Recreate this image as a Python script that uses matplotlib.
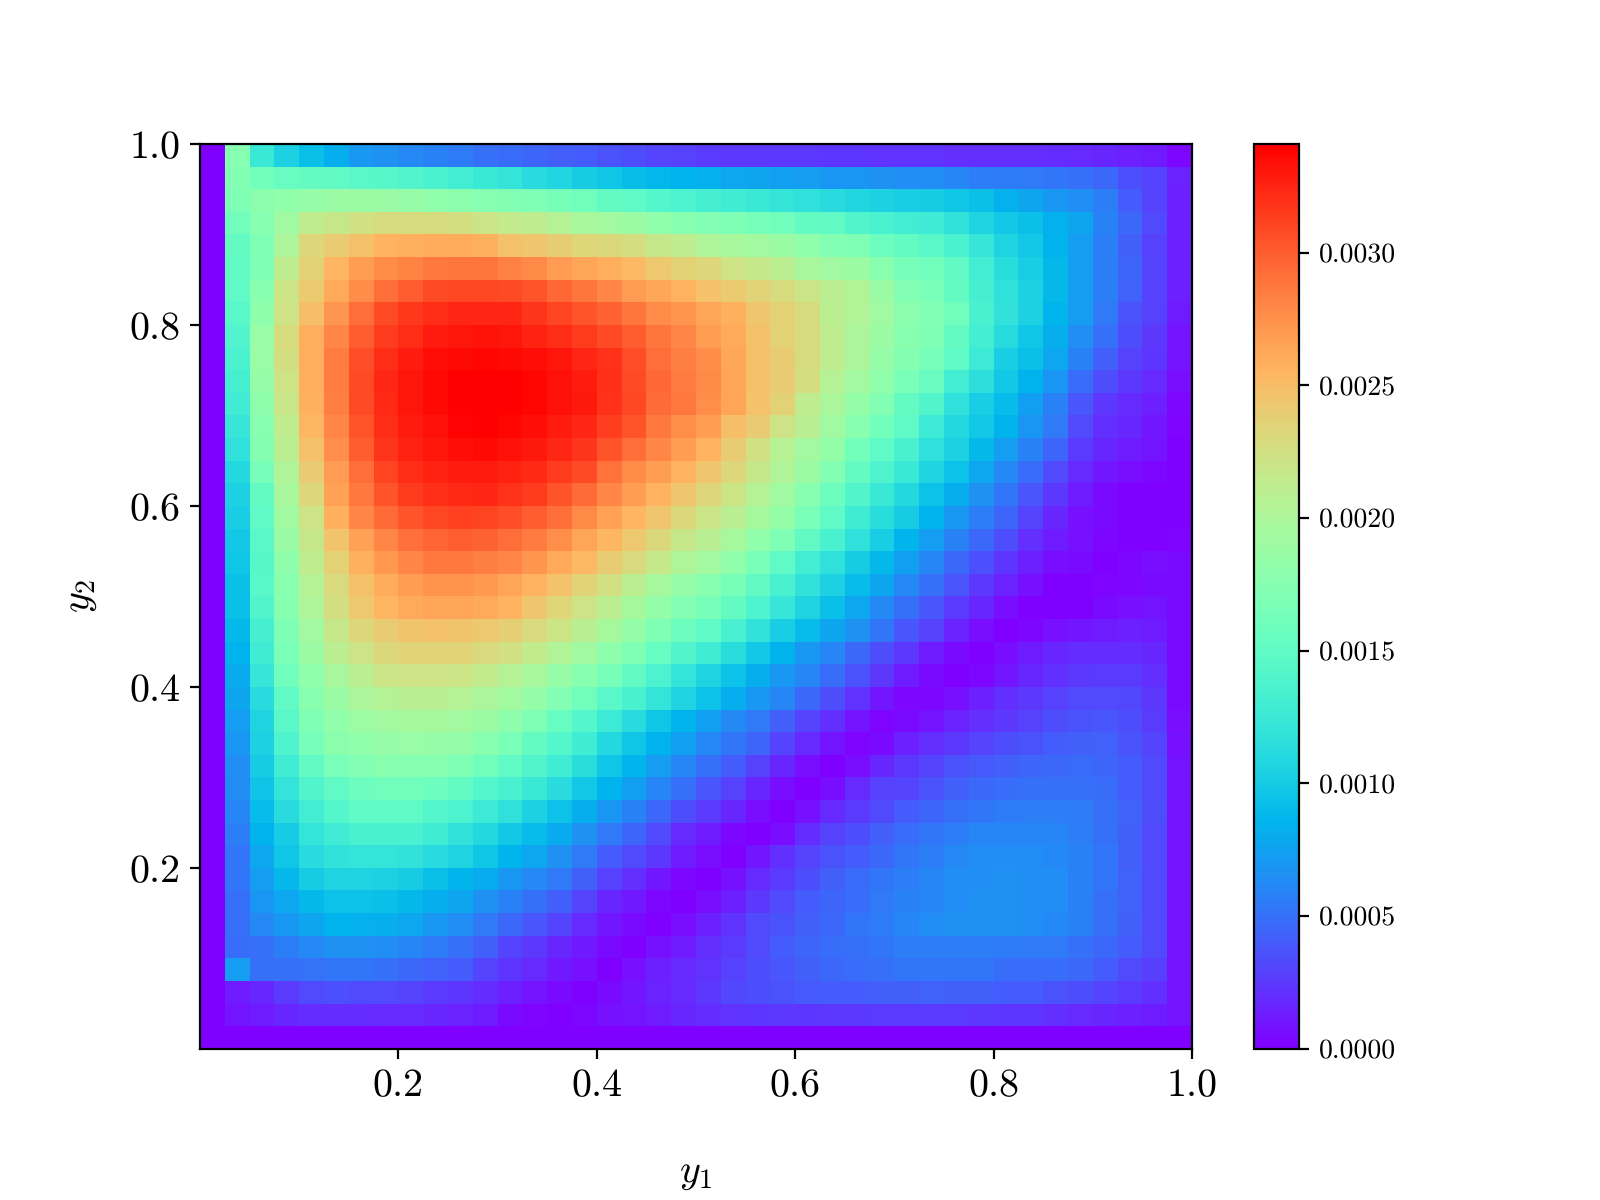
# ----------------------------------------------------------------------------------------------------------------------
# IMPORT GENERAL PACKAGES
# ----------------------------------------------------------------------------------------------------------------------

import numpy as np
import matplotlib
matplotlib.use('Agg')
import matplotlib.pyplot as plt

plt.rcParams['font.family'] = ['cmr10', 'DejaVu Serif']
plt.rcParams['mathtext.fontset'] = 'cm'
plt.rcParams['axes.formatter.use_mathtext'] = True
plt.rcParams['axes.unicode_minus'] = False
plt.rcParams['text.hinting'] = 'none'

# ----------------------------------------------------------------------------------------------------------------------
# DATA (units of 1e-5), first row is the top of the plot
# ----------------------------------------------------------------------------------------------------------------------

row_00 = [0, 175, 125, 105, 92, 82, 70, 66, 62, 58, 55, 50, 47, 44, 42, 40, 37, 34, 30, 28, 26, 25, 25, 24, 24, 23, 23, 22, 22, 22, 21, 21, 20, 20, 19, 18, 17, 14, 12, 3]
row_01 = [0, 172, 162, 155, 152, 150, 146, 143, 139, 135, 130, 125, 120, 113, 107, 101, 96, 91, 87, 85, 83, 78, 76, 74, 72, 69, 68, 66, 65, 64, 60, 56, 55, 54, 53, 50, 46, 35, 30, 15]
row_02 = [0, 168, 178, 182, 186, 188, 188, 188, 186, 182, 178, 175, 172, 170, 165, 160, 153, 148, 142, 136, 132, 128, 125, 120, 117, 112, 108, 105, 102, 100, 96, 92, 83, 77, 70, 65, 56, 40, 30, 14]
row_03 = [0, 160, 175, 192, 212, 218, 224, 228, 229, 228, 226, 220, 215, 212, 206, 198, 194, 188, 182, 175, 172, 170, 165, 160, 153, 150, 140, 135, 130, 127, 118, 106, 98, 92, 83, 76, 58, 46, 33, 14]
row_04 = [0, 152, 170, 200, 232, 240, 248, 256, 258, 260, 260, 258, 249, 245, 239, 234, 231, 227, 218, 212, 202, 198, 194, 188, 182, 172, 170, 158, 153, 146, 135, 122, 106, 98, 85, 72, 56, 42, 28, 14]
row_05 = [0, 150, 170, 212, 237, 255, 268, 278, 282, 287, 288, 288, 283, 279, 270, 264, 259, 252, 243, 236, 232, 222, 216, 210, 198, 192, 188, 176, 165, 160, 150, 130, 114, 102, 88, 72, 56, 44, 30, 14]
row_06 = [0, 148, 176, 220, 242, 262, 278, 292, 300, 308, 310, 310, 308, 304, 295, 288, 280, 270, 263, 256, 247, 242, 235, 228, 220, 210, 203, 188, 172, 166, 153, 132, 117, 104, 88, 72, 56, 43, 29, 14]
row_07 = [0, 145, 180, 222, 250, 272, 292, 308, 316, 322, 325, 325, 324, 318, 311, 304, 298, 288, 278, 272, 264, 258, 244, 236, 228, 210, 203, 192, 178, 171, 160, 134, 118, 104, 86, 72, 54, 37, 28, 13]
row_08 = [0, 139, 187, 228, 259, 280, 300, 315, 322, 328, 331, 333, 331, 326, 322, 315, 308, 300, 288, 280, 269, 262, 248, 236, 228, 212, 200, 188, 176, 170, 153, 131, 111, 97, 82, 64, 50, 34, 24, 9]
row_09 = [0, 135, 187, 226, 259, 286, 307, 322, 329, 335, 337, 338, 337, 335, 331, 324, 319, 307, 293, 284, 278, 263, 248, 240, 228, 212, 200, 186, 174, 164, 148, 126, 102, 92, 78, 58, 42, 29, 23, 8]
row_10 = [0, 132, 186, 222, 259, 286, 309, 324, 331, 337, 340, 341, 340, 338, 334, 328, 320, 309, 295, 286, 279, 264, 249, 240, 227, 206, 194, 182, 166, 155, 130, 115, 98, 84, 69, 48, 34, 24, 18, 6]
row_11 = [0, 128, 180, 219, 258, 285, 309, 323, 331, 336, 340, 340, 340, 338, 334, 330, 319, 310, 294, 287, 276, 264, 247, 236, 212, 199, 184, 172, 153, 140, 116, 102, 90, 74, 58, 38, 25, 18, 14, 3]
row_12 = [0, 122, 176, 212, 254, 280, 304, 322, 329, 334, 339, 340, 338, 335, 329, 324, 314, 304, 287, 277, 268, 250, 240, 222, 208, 193, 176, 162, 148, 126, 110, 98, 84, 68, 54, 32, 20, 16, 10, 2]
row_13 = [0, 116, 174, 210, 248, 276, 301, 318, 326, 331, 335, 336, 334, 330, 324, 318, 304, 293, 280, 268, 256, 240, 224, 207, 194, 184, 162, 148, 134, 116, 104, 88, 72, 58, 44, 26, 17, 12, 8, 0]
row_14 = [0, 110, 164, 202, 240, 270, 293, 311, 322, 326, 329, 328, 326, 323, 315, 308, 290, 278, 268, 256, 244, 232, 218, 202, 188, 172, 152, 138, 124, 106, 94, 78, 62, 48, 32, 18, 10, 6, 3, 0]
row_15 = [0, 104, 152, 198, 232, 266, 287, 304, 315, 321, 323, 324, 319, 315, 304, 294, 280, 268, 256, 244, 233, 220, 206, 192, 176, 158, 140, 124, 110, 94, 82, 66, 52, 38, 24, 12, 4, 0, 1, 0]
row_16 = [0, 102, 148, 192, 222, 258, 280, 294, 304, 310, 312, 311, 307, 301, 292, 279, 266, 255, 244, 231, 221, 208, 196, 184, 166, 149, 128, 114, 100, 85, 70, 56, 44, 30, 17, 7, 4, 0, 0, 0]
row_17 = [0, 98, 146, 188, 218, 246, 266, 281, 291, 297, 299, 298, 293, 286, 276, 264, 254, 243, 231, 218, 208, 196, 182, 170, 150, 134, 116, 102, 86, 72, 58, 46, 34, 20, 13, 7, 3, 0, 1, 2]
row_18 = [0, 96, 143, 180, 212, 236, 258, 271, 281, 287, 287, 285, 280, 272, 262, 252, 240, 230, 216, 202, 194, 182, 166, 148, 130, 116, 100, 88, 74, 60, 46, 35, 23, 14, 6, 4, 1, 3, 6, 5]
row_19 = [0, 93, 144, 176, 206, 230, 248, 260, 269, 274, 274, 271, 265, 256, 247, 235, 224, 210, 197, 186, 177, 164, 150, 134, 118, 104, 90, 76, 62, 50, 38, 24, 15, 7, 1, 1, 2, 3, 5, 5]
row_20 = [0, 92, 140, 175, 202, 226, 243, 255, 262, 264, 264, 262, 256, 245, 234, 222, 210, 196, 184, 173, 164, 152, 138, 122, 106, 92, 78, 62, 50, 38, 26, 16, 6, 0, 0, 1, 4, 7, 8, 4]
row_21 = [0, 89, 133, 170, 194, 218, 232, 241, 246, 247, 246, 243, 238, 230, 220, 208, 196, 184, 170, 158, 148, 134, 118, 102, 90, 76, 66, 52, 38, 28, 15, 6, 0, 3, 7, 10, 12, 14, 13, 4]
row_22 = [0, 85, 128, 166, 188, 210, 222, 231, 235, 235, 235, 230, 225, 214, 203, 192, 180, 168, 154, 140, 128, 114, 98, 84, 70, 60, 46, 34, 24, 12, 4, 0, 6, 12, 16, 19, 19, 19, 17, 5]
row_23 = [0, 80, 122, 160, 182, 198, 210, 220, 222, 222, 220, 214, 206, 198, 186, 176, 164, 150, 136, 120, 106, 94, 82, 70, 60, 48, 36, 24, 12, 5, 1, 3, 10, 16, 20, 24, 26, 26, 20, 5]
row_24 = [0, 76, 112, 150, 176, 188, 200, 206, 208, 208, 206, 200, 194, 184, 172, 160, 146, 134, 120, 106, 94, 82, 70, 60, 46, 34, 22, 10, 3, 3, 7, 14, 20, 24, 29, 32, 32, 31, 24, 5]
row_25 = [0, 72, 106, 146, 170, 182, 190, 194, 196, 196, 194, 188, 180, 168, 154, 142, 126, 112, 96, 84, 74, 62, 54, 42, 30, 20, 8, 2, 4, 8, 15, 21, 25, 29, 34, 37, 38, 34, 26, 6]
row_26 = [0, 69, 104, 138, 164, 178, 182, 186, 187, 186, 183, 176, 166, 152, 142, 128, 110, 96, 84, 74, 62, 52, 44, 30, 18, 8, 2, 4, 14, 20, 25, 30, 34, 37, 41, 42, 43, 37, 30, 7]
row_27 = [0, 65, 100, 128, 150, 166, 172, 177, 175, 175, 170, 160, 150, 140, 128, 114, 97, 86, 72, 60, 50, 40, 28, 16, 6, 0, 6, 16, 24, 30, 36, 39, 42, 44, 46, 47, 45, 40, 32, 8]
row_28 = [0, 63, 95, 120, 140, 150, 158, 160, 160, 158, 152, 142, 134, 124, 112, 98, 84, 74, 60, 50, 38, 28, 16, 6, 0, 6, 18, 28, 30, 36, 42, 46, 48, 50, 50, 50, 48, 40, 33, 8]
row_29 = [0, 60, 90, 112, 130, 142, 148, 148, 148, 142, 136, 126, 116, 104, 94, 82, 68, 58, 46, 34, 26, 16, 6, 1, 7, 18, 26, 33, 41, 44, 50, 53, 55, 56, 56, 55, 50, 43, 34, 9]
row_30 = [0, 56, 84, 100, 120, 128, 134, 134, 134, 128, 118, 110, 98, 90, 80, 66, 54, 44, 33, 18, 12, 3, 0, 6, 19, 28, 34, 42, 48, 52, 56, 60, 60, 60, 60, 56, 50, 42, 32, 9]
row_31 = [0, 53, 78, 96, 112, 118, 120, 120, 118, 112, 106, 96, 86, 78, 66, 54, 40, 32, 24, 12, 6, 1, 10, 20, 30, 36, 41, 46, 52, 56, 62, 64, 64, 64, 62, 58, 52, 42, 32, 9]
row_32 = [0, 52, 72, 88, 100, 106, 106, 105, 100, 92, 86, 80, 70, 62, 54, 42, 28, 20, 10, 3, 1, 7, 18, 26, 34, 42, 47, 52, 56, 60, 64, 65, 66, 65, 64, 58, 52, 43, 33, 9]
row_33 = [0, 50, 68, 78, 88, 94, 94, 93, 88, 82, 76, 66, 58, 50, 42, 30, 17, 11, 3, 1, 6, 14, 24, 32, 40, 44, 48, 54, 58, 60, 64, 66, 66, 65, 64, 58, 50, 43, 32, 9]
row_34 = [0, 50, 62, 70, 76, 84, 83, 82, 78, 70, 64, 54, 46, 38, 30, 18, 10, 5, 1, 6, 14, 22, 32, 37, 42, 46, 52, 55, 60, 64, 66, 66, 66, 65, 62, 58, 50, 42, 32, 9]
row_35 = [0, 48, 50, 56, 62, 66, 66, 65, 60, 55, 50, 42, 30, 25, 17, 11, 5, 0, 7, 12, 20, 26, 33, 40, 44, 48, 50, 53, 56, 56, 56, 56, 55, 54, 54, 50, 46, 40, 32, 9]
row_36 = [0, 72, 50, 50, 51, 53, 52, 50, 46, 43, 40, 30, 23, 18, 11, 7, 0, 7, 14, 18, 22, 28, 34, 38, 42, 46, 48, 50, 52, 52, 52, 52, 48, 48, 48, 46, 40, 33, 27, 9]
row_37 = [0, 12, 17, 26, 32, 35, 32, 32, 30, 26, 23, 19, 14, 9, 4, 1, 5, 10, 15, 18, 24, 31, 34, 37, 39, 40, 41, 42, 42, 43, 42, 42, 41, 40, 37, 34, 30, 26, 21, 9]
row_38 = [0, 8, 13, 17, 19, 19, 19, 18, 18, 17, 15, 12, 5, 2, 0, 3, 7, 9, 12, 17, 19, 22, 23, 24, 23, 25, 25, 26, 26, 26, 26, 24, 23, 23, 20, 18, 17, 14, 12, 9]
row_39 = [0] * 40

all_rows = [row_00, row_01, row_02, row_03, row_04, row_05, row_06, row_07, row_08, row_09,
            row_10, row_11, row_12, row_13, row_14, row_15, row_16, row_17, row_18, row_19,
            row_20, row_21, row_22, row_23, row_24, row_25, row_26, row_27, row_28, row_29,
            row_30, row_31, row_32, row_33, row_34, row_35, row_36, row_37, row_38, row_39]

main_ticks = [0.2, 0.4, 0.6, 0.8, 1.0]
cbar_ticks = [0.0, 0.0005, 0.0010, 0.0015, 0.0020, 0.0025, 0.0030]

# ----------------------------------------------------------------------------------------------------------------------
# PLOT
# ----------------------------------------------------------------------------------------------------------------------

density = np.array(all_rows)[::-1] * 1e-5
edges = np.linspace(0, 1, 41)

f, ax = plt.subplots(figsize=(8, 6), dpi=200)
f.subplots_adjust(bottom=0.126)
mesh = ax.pcolormesh(edges, edges, density, cmap='rainbow', vmin=0, vmax=0.00341, shading='flat')
ax.set_xticks(main_ticks)
ax.set_yticks(main_ticks)
ax.set_xticklabels(['{:.1f}'.format(t) for t in main_ticks], fontsize=14.4)
ax.set_yticklabels(['{:.1f}'.format(t) for t in main_ticks], fontsize=14.4)
ax.set_xlabel(r'$y_1$', fontsize=14.4, labelpad=19)
ax.set_ylabel(r'$y_2$', fontsize=14.4, labelpad=11)

cbar = f.colorbar(mesh, ax=ax)
cbar.set_ticks(cbar_ticks)
cbar.set_ticklabels(['{:.4f}'.format(t) for t in cbar_ticks], fontsize=10)

plt.savefig('out.png', dpi=200)
